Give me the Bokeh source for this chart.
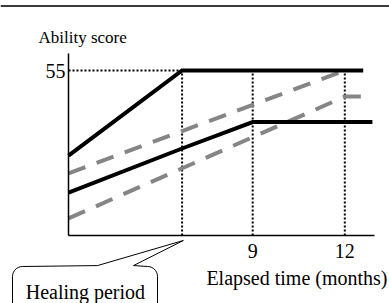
import numpy as np
from bokeh.plotting import figure
from bokeh.models import Range1d, LinearAxis, FixedTicker, Span
from bokeh.core.properties import value
from bokeh.embed import file_html
from bokeh.resources import INLINE

# ---- data (months, ability score) ----
heal_x = 6.7
black_upper_x = [3, heal_x, 12.6]
black_upper_y = [26.6, 55, 55]
black_lower_x = [3, heal_x, 9, 12.9]
black_lower_y = [14.3, 29, 37.8, 37.8]
gray_upper_x = [3, 12]
gray_upper_y = [20.7, 55]
gray_lower_x = [3, 12, 12.6]
gray_lower_y = [5.7, 46.3, 46.3]
target_score = 55
ref_months = [heal_x, 9, 12]
x_ticks = [9, 12]
y_ticks = [55]

W, H = 389, 303
XS, YS = 30.7, 3.0          # px per month, px per score point
x0 = 3 - 68 / XS
y0 = 0 - (H - 235) / YS
p = figure(width=W, height=H, x_range=Range1d(x0, x0 + W / XS),
           y_range=Range1d(y0, y0 + H / YS), output_backend="svg",
           toolbar_location=None, min_border=0, x_axis_type=None,
           y_axis_type=None)
p.outline_line_color = None
p.background_fill_color = "white"

FONT = "Liberation Serif"

def style_axis(ax, standoff):
    ax.axis_line_color = "black"
    ax.axis_line_width = 1.5
    ax.major_tick_out = 0
    ax.major_tick_in = 0
    ax.minor_tick_out = 0
    ax.minor_tick_in = 0
    ax.major_label_text_font = FONT
    ax.major_label_text_font_size = "20px"
    ax.major_label_text_color = "black"
    ax.major_label_standoff = standoff

yax = LinearAxis(fixed_location=3, bounds=(0, 60.7), ticker=FixedTicker(ticks=y_ticks))
style_axis(yax, 3)
p.add_layout(yax, "left")
xax = LinearAxis(fixed_location=0, bounds=(3, 12.97), ticker=FixedTicker(ticks=x_ticks))
style_axis(xax, 8)
p.add_layout(xax, "below")

# top rule of the page
p.add_layout(Span(location=(235 - 5.5) / YS, dimension="width",
                  line_color="#3a3a3a", line_width=2))

# dotted reference lines
p.segment(x0=[3], y0=[target_score], x1=[heal_x], y1=[target_score],
          line_color="black", line_width=2, line_dash="2 2")
p.segment(x0=ref_months, y0=[0] * 3, x1=ref_months, y1=[target_score] * 3,
          line_color="black", line_width=2, line_dash="2 2")

# dashed gray lines
for xs, ys in [(gray_upper_x, gray_upper_y), (gray_lower_x, gray_lower_y)]:
    p.line(xs, ys, line_color="#858585", line_width=4, line_dash="18 12",
           line_join="miter")
# solid black lines
for xs, ys in [(black_upper_x, black_upper_y), (black_lower_x, black_lower_y)]:
    p.line(xs, ys, line_color="black", line_width=4, line_join="miter")

# callout
bl, br, bt, bb = 1.176, 5.90, -10.33, -26.0
rx, ry = 10 / XS, 10 / YS
t = np.linspace(0, np.pi / 2, 8)
cx = [bl]
cy = [bb]
cx += list(bl + rx - rx * np.cos(t))
cy += list(bt - ry + ry * np.sin(t))
cx += [3.945, heal_x + 0.04, 5.117]
cy += [bt + 0.3, -1.67, bt + 0.3]
cx += list(br - rx + rx * np.sin(t))
cy += list(bt - ry + ry * np.cos(t))
cx += [br]
cy += [bb]
p.patch(cx, cy, fill_color="white", line_color="black", line_width=1)

p.text(x=[3.55], y=[-18.8], text=["Healing period"], text_font=value(FONT),
       text_font_size="20px", text_align="center", text_baseline="alphabetic",
       text_color="black")
p.text(x=[2.023], y=[66.0], text=["Ability score"], text_font=value(FONT),
       text_font_size="17px", text_align="left", text_baseline="alphabetic",
       text_color="black")
p.text(x=[13.39], y=[-14.0], text=["Elapsed time (months)"], text_font=value(FONT),
       text_font_size="20px", text_align="right", text_baseline="alphabetic",
       text_color="black")

open("out.html", "w").write(file_html(p, INLINE))
